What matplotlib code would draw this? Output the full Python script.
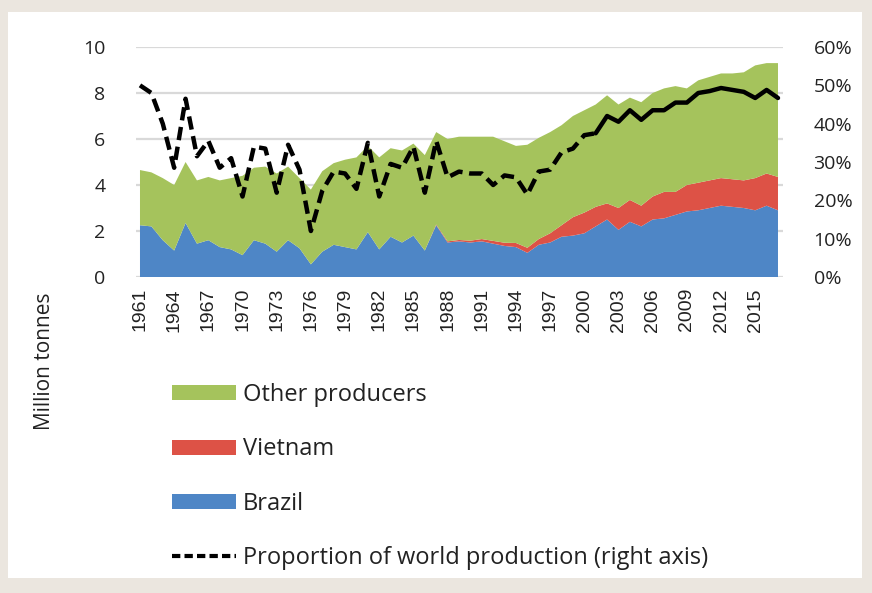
import numpy as np
import matplotlib.pyplot as plt
from matplotlib.patches import Patch, Rectangle
from matplotlib.lines import Line2D

plt.rcParams['font.family'] = ['Open Sans', 'DejaVu Sans']

years = np.arange(1961, 2018)

# million tonnes
brazil = [2.25, 2.2, 1.6, 1.15, 2.35, 1.45, 1.6, 1.3, 1.2, 0.95,
          1.6, 1.45, 1.1, 1.6, 1.25, 0.55, 1.1, 1.4, 1.3, 1.2,
          1.95, 1.2, 1.75, 1.5, 1.8, 1.15, 2.25, 1.5, 1.55, 1.5,
          1.55, 1.45, 1.35, 1.3, 1.05, 1.4, 1.5, 1.75, 1.8, 1.9,
          2.2, 2.5, 2.05, 2.4, 2.2, 2.5, 2.55, 2.7, 2.85, 2.9,
          3.0, 3.1, 3.05, 3.0, 2.9, 3.1, 2.9]
vietnam = [0.0] * 26 + [
          0.03, 0.05, 0.06, 0.08, 0.1, 0.12, 0.14, 0.18, 0.22, 0.25,
          0.4, 0.5, 0.8, 0.9, 0.85, 0.7, 0.95, 0.95, 0.9, 1.0,
          1.15, 1.0, 1.15, 1.2, 1.2, 1.2, 1.2, 1.2, 1.4, 1.4, 1.45]
other = [2.4, 2.35, 2.7, 2.85, 2.65, 2.75, 2.75, 2.9, 3.1, 3.45,
         3.15, 3.35, 3.4, 3.2, 3.05, 3.25, 3.5, 3.55, 3.8, 4.0,
         3.75, 4.0, 3.85, 4.0, 4.0, 4.15, 4.02, 4.45, 4.49, 4.52,
         4.45, 4.53, 4.41, 4.22, 4.48, 4.4, 4.4, 4.35, 4.4, 4.45,
         4.45, 4.7, 4.5, 4.45, 4.5, 4.5, 4.5, 4.6, 4.2, 4.45,
         4.5, 4.55, 4.6, 4.7, 4.9, 4.8, 4.95]
# percent of world production
share = [50, 48, 40, 28.5, 46.5, 31.5, 35.5, 28.5, 31, 21,
         34, 33.5, 22, 34.5, 28, 12, 22.5, 27.5, 27, 23,
         35, 21, 29.5, 28.5, 34, 22, 35.5, 26, 27.5, 27,
         27, 24, 26.5, 26, 21.5, 27.5, 28, 32.5, 33.5, 37,
         37.5, 42, 40.5, 43.5, 41, 43.5, 43.5, 45.5, 45.5, 48,
         48.5, 49.3, 48.8, 48.3, 46.7, 48.8, 46.7]

c_blue = '#4E86C6'
c_red = '#DD5246'
c_green = '#A5C35C'
txt = '#222222'

fig = plt.figure(figsize=(8.72, 5.93), dpi=100, facecolor='#EBE6DF')
fig.patches.append(Rectangle((8/872, 15/593), 854/872, 566/593,
                             transform=fig.transFigure, facecolor='white',
                             edgecolor='none', zorder=-5))

ax = fig.add_axes([136/872, 1 - 277/593, 647/872, 230/593])
ax.set_facecolor('none')
ax.stackplot(years, brazil, vietnam, other, colors=[c_blue, c_red, c_green],
             linewidth=0, zorder=2)
ax.set_xlim(1960.65, 2017.44)
ax.set_ylim(0, 10)
ax.set_yticks(np.arange(0, 11, 2))
ax.grid(axis='y', color='#D9D9D9', linewidth=1.6, zorder=0)
ax.set_axisbelow(True)
ax.set_xticks(years[::3])
ax.set_xticklabels([str(y) for y in years[::3]], rotation=90,
                   family=['Liberation Sans', 'DejaVu Sans'], fontsize=15)
ax.tick_params(length=0, labelsize=14, colors=txt)
ax.tick_params(axis='y', pad=22)
ax.tick_params(axis='x', pad=8)
for s in ax.spines.values():
    s.set_visible(False)

ax2 = ax.twinx()
ax2.set_ylim(0, 60)
ax2.set_yticks(np.arange(0, 61, 10))
ax2.set_yticklabels([f'{v}%' for v in range(0, 61, 10)])
ax2.tick_params(length=0, labelsize=14, colors=txt, pad=22)
for s in ax2.spines.values():
    s.set_visible(False)
cut = 2001 - 1961
ax2.plot(years[:cut + 1], share[:cut + 1], color='black', linewidth=3.2,
         dashes=(3, 1.5), dash_capstyle='butt')
ax2.plot(years[cut:], share[cut:], color='black', linewidth=3.2,
         solid_capstyle='round')

fig.text(45/872, 1 - 361/593, 'Million tonnes', rotation=90, ha='center',
         va='center', fontsize=15, color=txt)

handles = [Patch(facecolor=c_green), Patch(facecolor=c_red),
           Patch(facecolor=c_blue),
           Line2D([], [], color='black', linewidth=3, dashes=(2, 1))]
labels = ['Other producers', 'Vietnam', 'Brazil',
          'Proportion of world production (right axis)']
leg = fig.legend(handles, labels, loc='upper left',
                 bbox_to_anchor=(151/872, 1 - 362/593), frameon=False,
                 fontsize=17, handlelength=2.7, handleheight=0.6,
                 handletextpad=0.28, labelspacing=1.28, labelcolor=txt)

fig.savefig('out.png', dpi=100, facecolor=fig.get_facecolor())
